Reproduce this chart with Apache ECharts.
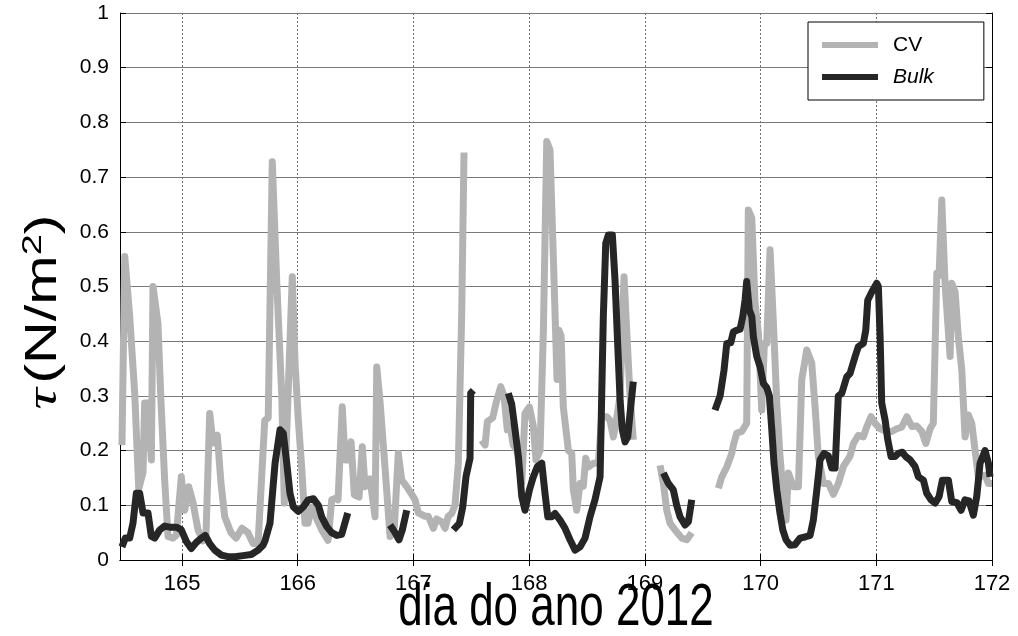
<!DOCTYPE html>
<html>
<head>
<meta charset="utf-8">
<script src="https://cdn.jsdelivr.net/npm/echarts@6/dist/echarts.min.js"></script>
<style>
  html, body { margin: 0; padding: 0; background: #fff; }
  #chart { width: 1018px; height: 636px; }
</style>
</head>
<body>
<div id="chart"></div>
<script>
// Day-of-year tick labels
const dayTicks = [165, 166, 167, 168, 169, 170, 171, 172];

// Wind stress from the control-volume (CV) method, one array per continuous stretch
const cv1 = [[164.481,0.21],[164.505,0.555],[164.548,0.445],[164.591,0.305],[164.626,0.13],[164.663,0.16],[164.677,0.287],[164.706,0.287],[164.735,0.183],[164.749,0.50],[164.792,0.433],[164.818,0.29],[164.850,0.146],[164.879,0.043],[164.922,0.04],[164.951,0.045],[164.994,0.152],[165.023,0.091],[165.058,0.134],[165.095,0.105],[165.138,0.055],[165.181,0.035],[165.207,0.045],[165.239,0.268],[165.268,0.214],[165.305,0.228],[165.337,0.14],[165.369,0.079],[165.423,0.05],[165.467,0.04],[165.518,0.058],[165.570,0.05],[165.614,0.03],[165.657,0.03],[165.715,0.255],[165.745,0.26],[165.780,0.728],[165.818,0.512],[165.862,0.30],[165.884,0.104],[165.916,0.30],[165.953,0.518],[165.977,0.36],[166.005,0.256],[166.034,0.17],[166.063,0.067],[166.089,0.067],[166.121,0.097],[166.164,0.075],[166.207,0.055],[166.262,0.036],[166.294,0.11],[166.328,0.113],[166.348,0.11],[166.385,0.28],[166.409,0.183],[166.432,0.183],[166.461,0.216],[166.489,0.119],[166.530,0.115],[166.558,0.207],[166.582,0.134],[166.625,0.148],[166.668,0.079],[166.683,0.353],[166.711,0.29],[166.754,0.17],[166.798,0.043],[166.835,0.06],[166.869,0.195],[166.899,0.146],[166.942,0.134],[166.985,0.12],[167.014,0.11],[167.042,0.086],[167.100,0.08],[167.128,0.08],[167.172,0.058],[167.201,0.075],[167.244,0.07],[167.273,0.058],[167.301,0.08],[167.331,0.085],[167.359,0.1],[167.388,0.177],[167.417,0.45],[167.437,0.745]];
const cv2 = [[167.590,0.219],[167.619,0.21],[167.639,0.253],[167.685,0.26],[167.714,0.287],[167.754,0.317],[167.783,0.30],[167.811,0.238],[167.835,0.245],[167.863,0.21],[167.895,0.2],[167.936,0.14],[167.964,0.268],[168.002,0.28],[168.036,0.245],[168.059,0.183],[168.094,0.2],[168.123,0.42],[168.152,0.765],[168.180,0.75],[168.215,0.512],[168.241,0.33],[168.258,0.42],[168.276,0.41],[168.295,0.28],[168.339,0.2],[168.368,0.195],[168.382,0.128],[168.411,0.091],[168.440,0.14],[168.468,0.135],[168.489,0.186],[168.512,0.17],[168.555,0.177],[168.598,0.177],[168.627,0.262],[168.671,0.262],[168.699,0.255],[168.728,0.225],[168.757,0.26],[168.786,0.30],[168.820,0.518],[168.843,0.42],[168.872,0.30],[168.900,0.22]];
const cv3 = [[169.131,0.173],[169.160,0.14],[169.189,0.091],[169.218,0.067],[169.261,0.055],[169.319,0.04],[169.362,0.037],[169.405,0.05]];
const cv4 = [[169.635,0.131],[169.665,0.152],[169.708,0.17],[169.751,0.195],[169.765,0.21],[169.794,0.232],[169.837,0.235],[169.880,0.25],[169.894,0.64],[169.924,0.625],[169.952,0.47],[169.981,0.415],[170.010,0.274],[170.033,0.396],[170.053,0.396],[170.082,0.567],[170.111,0.433],[170.140,0.287],[170.168,0.189],[170.197,0.116],[170.220,0.073],[170.240,0.159],[170.283,0.134],[170.327,0.134],[170.356,0.33],[170.399,0.384],[170.442,0.36],[170.471,0.28],[170.499,0.19],[170.543,0.14],[170.586,0.14],[170.629,0.12],[170.672,0.14],[170.716,0.171],[170.773,0.19],[170.802,0.213],[170.845,0.228],[170.888,0.225],[170.918,0.244],[170.955,0.262],[170.989,0.25],[171.033,0.24],[171.091,0.235],[171.134,0.235],[171.177,0.24],[171.220,0.243],[171.264,0.262],[171.307,0.244],[171.350,0.245],[171.393,0.235],[171.428,0.213],[171.465,0.24],[171.493,0.25],[171.523,0.524],[171.543,0.52],[171.566,0.658],[171.594,0.506],[171.638,0.372],[171.652,0.506],[171.681,0.49],[171.709,0.408],[171.739,0.347],[171.767,0.225],[171.796,0.265],[171.825,0.25],[171.854,0.2],[171.882,0.152],[171.940,0.155],[171.969,0.14],[172.0,0.14]];

// Wind stress from the bulk formula, one array per continuous stretch
const bulk1 = [[164.481,0.024],[164.510,0.04],[164.548,0.04],[164.576,0.067],[164.605,0.122],[164.634,0.122],[164.663,0.086],[164.706,0.086],[164.735,0.043],[164.764,0.04],[164.807,0.055],[164.850,0.062],[164.894,0.06],[164.951,0.06],[164.994,0.055],[165.037,0.034],[165.080,0.021],[165.123,0.032],[165.167,0.04],[165.201,0.045],[165.239,0.03],[165.283,0.018],[165.340,0.009],[165.397,0.006],[165.455,0.006],[165.527,0.008],[165.599,0.01],[165.657,0.018],[165.700,0.027],[165.717,0.035],[165.760,0.067],[165.804,0.177],[165.847,0.238],[165.875,0.232],[165.905,0.177],[165.933,0.122],[165.962,0.097],[166.005,0.089],[166.048,0.097],[166.091,0.11],[166.135,0.112],[166.178,0.1],[166.207,0.079],[166.251,0.061],[166.294,0.05],[166.337,0.045],[166.380,0.047],[166.432,0.086]];
const bulk2 = [[166.798,0.064],[166.841,0.05],[166.875,0.037],[166.904,0.055],[166.942,0.091]];
const bulk3 = [[167.345,0.055],[167.397,0.067],[167.426,0.097],[167.454,0.152],[167.489,0.186],[167.495,0.305],[167.518,0.31]];
const bulk4 = [[167.820,0.305],[167.849,0.285],[167.878,0.238],[167.907,0.189],[167.936,0.116],[167.964,0.091],[168.002,0.128],[168.036,0.152],[168.071,0.171],[168.109,0.177],[168.137,0.122],[168.161,0.079],[168.195,0.079],[168.224,0.085],[168.267,0.073],[168.310,0.058],[168.353,0.037],[168.397,0.018],[168.440,0.024],[168.483,0.04],[168.526,0.079],[168.569,0.11],[168.613,0.152],[168.627,0.30],[168.641,0.445],[168.662,0.579],[168.684,0.594],[168.719,0.594],[168.742,0.512],[168.766,0.39],[168.786,0.292],[168.805,0.238],[168.829,0.216],[168.852,0.225],[168.872,0.268],[168.900,0.326]];
const bulk5 = [[169.160,0.159],[169.203,0.14],[169.246,0.128],[169.275,0.10],[169.304,0.079],[169.347,0.064],[169.376,0.07],[169.405,0.11]];
const bulk6 = [[169.606,0.274],[169.650,0.30],[169.684,0.347],[169.708,0.396],[169.742,0.397],[169.765,0.417],[169.794,0.42],[169.823,0.422],[169.846,0.445],[169.866,0.475],[169.880,0.509],[169.903,0.457],[169.924,0.445],[169.938,0.408],[169.967,0.372],[169.996,0.353],[170.024,0.323],[170.053,0.315],[170.076,0.30],[170.097,0.238],[170.116,0.177],[170.140,0.128],[170.168,0.085],[170.192,0.055],[170.220,0.037],[170.255,0.027],[170.298,0.028],[170.341,0.04],[170.384,0.042],[170.428,0.045],[170.456,0.073],[170.486,0.128],[170.514,0.183],[170.549,0.195],[170.586,0.19],[170.615,0.168],[170.644,0.168],[170.672,0.30],[170.702,0.305],[170.745,0.335],[170.773,0.341],[170.817,0.372],[170.845,0.39],[170.888,0.396],[170.909,0.42],[170.926,0.475],[170.961,0.49],[171.004,0.506],[171.018,0.50],[171.033,0.408],[171.047,0.287],[171.076,0.256],[171.099,0.22],[171.128,0.189],[171.162,0.189],[171.191,0.195],[171.225,0.197],[171.255,0.189],[171.292,0.183],[171.335,0.171],[171.364,0.152],[171.407,0.146],[171.436,0.122],[171.473,0.11],[171.508,0.104],[171.543,0.116],[171.571,0.146],[171.623,0.146],[171.652,0.107],[171.696,0.105],[171.733,0.091],[171.767,0.11],[171.802,0.108],[171.839,0.082],[171.868,0.116],[171.897,0.177],[171.940,0.2],[171.969,0.177],[171.983,0.152]];

const CV_COLOR = '#b3b3b3';
const BULK_COLOR = '#262626';
const SANS = "'Liberation Sans', Arial, sans-serif";

function stretch(name, color, pts, z) {
  return {
    type: 'line', name: name, data: pts, z: z,
    showSymbol: false, symbol: 'none', silent: true, animation: false,
    lineStyle: { color: color, width: 7, join: 'round', cap: 'butt' },
    itemStyle: { color: color }
  };
}

const series = []
  .concat([cv1, cv2, cv3, cv4].map(p => stretch('CV', CV_COLOR, p, 2)))
  .concat([bulk1, bulk2, bulk3, bulk4, bulk5, bulk6].map(p => stretch('Bulk', BULK_COLOR, p, 3)));

const frameLine = { show: true, lineStyle: { color: '#000', width: 1 } };
const X_MIN = 164.464, X_MAX = 172;

const chart = echarts.init(document.getElementById('chart'), null, { renderer: 'canvas' });
chart.setOption({
  backgroundColor: '#fff',
  animation: false,
  grid: { left: 120, right: 26, top: 13, bottom: 76 },
  xAxis: [
    {
      type: 'value', position: 'bottom', min: X_MIN, max: X_MAX,
      axisLine: frameLine,
      axisTick: { inside: true, length: 6, customValues: dayTicks, lineStyle: { color: '#000' } },
      axisLabel: { customValues: dayTicks, margin: 13, fontSize: 22, fontFamily: SANS, color: '#000' },
      splitLine: { show: true, lineStyle: { color: '#707070', width: 1, type: [2, 2] } }
    },
    {
      type: 'value', position: 'top', min: X_MIN, max: X_MAX,
      axisLine: frameLine,
      axisTick: { inside: true, length: 6, customValues: dayTicks, lineStyle: { color: '#000' } },
      axisLabel: { show: false },
      splitLine: { show: false }
    }
  ],
  yAxis: [
    {
      type: 'value', position: 'left', min: 0, max: 1, interval: 0.1,
      axisLine: frameLine,
      axisTick: { inside: true, length: 6, lineStyle: { color: '#000' } },
      axisLabel: { margin: 11, fontSize: 21, fontFamily: SANS, color: '#000' },
      splitLine: { show: true, lineStyle: { color: '#7a7a7a', width: 1 } }
    },
    {
      type: 'value', position: 'right', min: 0, max: 1, interval: 0.1,
      axisLine: frameLine,
      axisTick: { inside: true, length: 6, lineStyle: { color: '#000' } },
      axisLabel: { show: false },
      splitLine: { show: false }
    }
  ],
  legend: {
    data: ['CV', 'Bulk'],
    orient: 'vertical', left: 808, top: 22,
    padding: [11, 50, 11, 14], itemGap: 8,
    itemWidth: 56, itemHeight: 6, icon: 'rect',
    backgroundColor: '#fff', borderColor: '#000', borderWidth: 1, borderRadius: 0,
    selectedMode: false,
    formatter: n => n === 'Bulk' ? '{i|Bulk}' : n,
    textStyle: {
      fontSize: 21, fontFamily: SANS, color: '#000', lineHeight: 24, padding: [0, 0, 0, 10],
      rich: { i: { fontSize: 21, fontFamily: SANS, fontStyle: 'italic', color: '#000' } }
    }
  },
  graphic: [
    {
      type: 'text', x: 556, y: 609, scaleY: 1.35, silent: true,
      style: { text: 'dia do ano 2012', fill: '#000', font: "44px " + SANS, align: 'center', verticalAlign: 'middle' }
    },
    {
      type: 'text', x: 44, y: 312, rotation: Math.PI / 2, scaleX: 1.35, silent: true,
      style: {
        text: '{t|τ} {n|(N/m}{s|2}{n|)}', fill: '#000', align: 'center', verticalAlign: 'middle',
        rich: {
          t: { fontSize: 44, fontFamily: "'Liberation Serif', 'DejaVu Serif', serif", fontStyle: 'italic', fill: '#000' },
          n: { fontSize: 44, fontFamily: SANS, fill: '#000', lineHeight: 50 },
          s: { fontSize: 28, fontFamily: SANS, fill: '#000', verticalAlign: 'top', lineHeight: 50 }
        }
      }
    }
  ],
  series: series
});
</script>
</body>
</html>
